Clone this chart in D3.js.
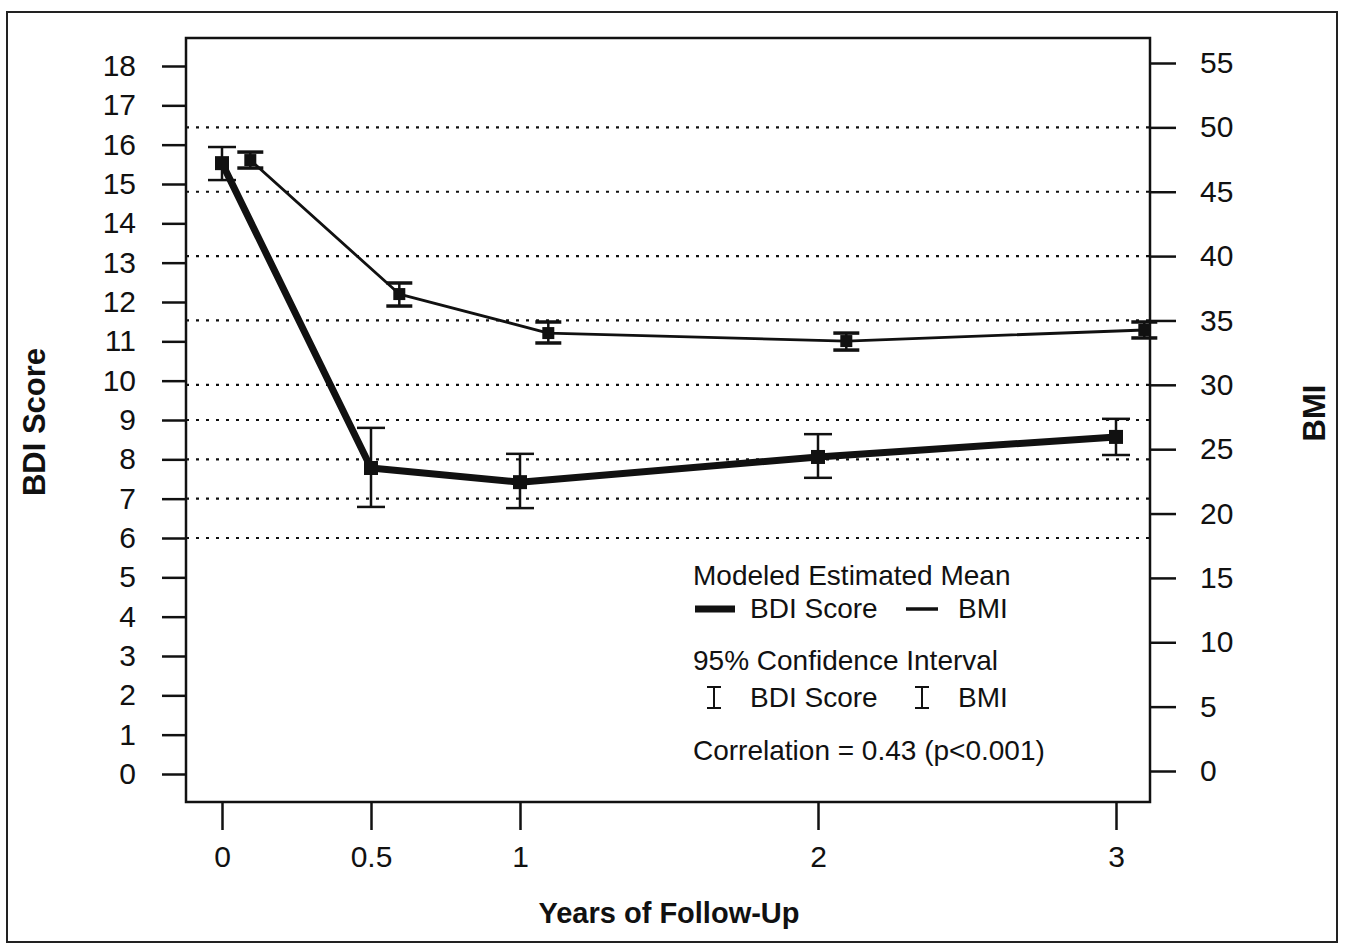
<!DOCTYPE html>
<html>
<head>
<meta charset="utf-8">
<script src="https://cdn.jsdelivr.net/npm/d3@7"></script>
<style>
  body { margin: 0; background: #fff; }
  text { font-family: "Liberation Sans", Arial, sans-serif; fill: #111; }
</style>
</head>
<body>
<div class="container"></div>
<script>
// data
const years = [0, 0.5, 1, 2, 3];
const bdiMean = [15.53, 7.78, 7.42, 8.06, 8.57];
const bdiLow  = [15.10, 6.79, 6.76, 7.53, 8.11];
const bdiHigh = [15.94, 8.80, 8.14, 8.64, 9.03];

const bmiYears = [0.095, 0.595, 1.095, 2.095, 3.095];
const bmiMean = [47.46, 37.05, 34.02, 33.40, 34.26];
const bmiLow  = [46.84, 36.12, 33.25, 32.70, 33.64];
const bmiHigh = [48.08, 37.91, 34.88, 34.02, 34.88];

const xTicks = [0, 0.5, 1, 2, 3];
const bdiTicks = d3.range(0, 19);
const bmiTicks = [0, 5, 10, 15, 20, 25, 30, 35, 40, 45, 50, 55];
const bdiGrid = [6, 7, 8, 9];
const bmiGrid = [30, 35, 40, 45, 50];

const W = 1349, H = 945;
const box = {left: 186, top: 38, right: 1150, bottom: 802};

const svg = d3.select('.container').append('svg')
  .attr('width', W).attr('height', H);

// outer frame
svg.append('rect')
  .attr('x', 7).attr('y', 12).attr('width', 1330).attr('height', 930)
  .attr('fill', 'none').attr('stroke', '#222').attr('stroke-width', 2);

const x = d3.scaleLinear().domain([0, 3]).range([222, 1116]);
const yL = d3.scaleLinear().domain([0, 18]).range([774, 66]);
const yR = d3.scaleLinear().domain([0, 55]).range([771, 63]);

// dotted grid lines
const grid = svg.append('g').attr('stroke', '#111').attr('stroke-width', 2.2)
  .attr('stroke-dasharray', '3,7');
grid.selectAll('.gl').data(bdiGrid).enter().append('line')
  .attr('x1', box.left).attr('x2', box.right)
  .attr('y1', d => yL(d)).attr('y2', d => yL(d));
grid.selectAll('.gr').data(bmiGrid).enter().append('line')
  .attr('x1', box.left).attr('x2', box.right)
  .attr('y1', d => yR(d)).attr('y2', d => yR(d));

// plot box
svg.append('rect')
  .attr('x', box.left).attr('y', box.top)
  .attr('width', box.right - box.left).attr('height', box.bottom - box.top)
  .attr('fill', 'none').attr('stroke', '#111').attr('stroke-width', 2.5);

// axes
let styleAxis = (g) => {
  g.select('.domain').remove();
  g.selectAll('.tick line').attr('stroke', '#111').attr('stroke-width', 2.5);
  g.selectAll('.tick text').attr('font-size', 30).attr('fill', '#111')
    .attr('font-family', '"Liberation Sans", Arial, sans-serif');
};

svg.append('g').attr('transform', `translate(${box.left},0)`)
  .call(d3.axisLeft(yL).tickValues(bdiTicks).tickSize(24).tickPadding(26).tickFormat(d3.format('d')))
  .call(styleAxis);

svg.append('g').attr('transform', `translate(${box.right},0)`)
  .call(d3.axisRight(yR).tickValues(bmiTicks).tickSize(26).tickPadding(24).tickFormat(d3.format('d')))
  .call(styleAxis);

svg.append('g').attr('transform', `translate(0,${box.bottom})`)
  .call(d3.axisBottom(x).tickValues(xTicks).tickSize(28).tickPadding(16).tickFormat(d => d))
  .call(styleAxis);

// axis titles
svg.append('text')
  .attr('transform', 'translate(45,422) rotate(-90)')
  .attr('text-anchor', 'middle').attr('font-size', 31).attr('font-weight', 'bold')
  .text('BDI Score');
svg.append('text')
  .attr('transform', 'translate(1325,413) rotate(-90)')
  .attr('text-anchor', 'middle').attr('font-size', 31).attr('font-weight', 'bold')
  .text('BMI');
svg.append('text')
  .attr('x', 669).attr('y', 923)
  .attr('text-anchor', 'middle').attr('font-size', 29).attr('font-weight', 'bold')
  .text('Years of Follow-Up');

// series
let bdi = years.map((t, i) => ({t, m: bdiMean[i], lo: bdiLow[i], hi: bdiHigh[i]}));
let bmi = bmiYears.map((t, i) => ({t, m: bmiMean[i], lo: bmiLow[i], hi: bmiHigh[i]}));

let drawSeries = (data, y, lw, cap, sq, capW) => {
  const g = svg.append('g');
  g.append('path').datum(data)
    .attr('fill', 'none').attr('stroke', '#111').attr('stroke-width', lw)
    .attr('stroke-linejoin', 'round')
    .attr('d', d3.line().x(d => x(d.t)).y(d => y(d.m)));
  const eb = g.selectAll('.eb').data(data).enter().append('g');
  eb.append('line')
    .attr('x1', d => x(d.t)).attr('x2', d => x(d.t))
    .attr('y1', d => y(d.lo)).attr('y2', d => y(d.hi))
    .attr('stroke', '#111').attr('stroke-width', 2.5);
  ['lo', 'hi'].forEach(k => {
    eb.append('line')
      .attr('x1', d => x(d.t) - cap / 2).attr('x2', d => x(d.t) + cap / 2)
      .attr('y1', d => y(d[k])).attr('y2', d => y(d[k]))
      .attr('stroke', '#111').attr('stroke-width', capW);
  });
  eb.append('rect')
    .attr('x', d => x(d.t) - sq / 2).attr('y', d => y(d.m) - sq / 2)
    .attr('width', sq).attr('height', sq).attr('fill', '#111');
};

drawSeries(bmi, yR, 2.8, 26, 12, 3.5);
drawSeries(bdi, yL, 7, 28, 14, 2.5);

// legend
const lg = svg.append('g');
lg.append('text').attr('x', 693).attr('y', 585).attr('font-size', 28).text('Modeled Estimated Mean');
lg.append('line').attr('x1', 695).attr('x2', 735).attr('y1', 609).attr('y2', 609)
  .attr('stroke', '#111').attr('stroke-width', 7);
lg.append('text').attr('x', 750).attr('y', 618).attr('font-size', 28).text('BDI Score');
lg.append('line').attr('x1', 906).attr('x2', 938).attr('y1', 609).attr('y2', 609)
  .attr('stroke', '#111').attr('stroke-width', 3.5);
lg.append('text').attr('x', 958).attr('y', 618).attr('font-size', 28).text('BMI');

lg.append('text').attr('x', 693).attr('y', 670).attr('font-size', 28).text('95% Confidence Interval');
[714, 922].forEach(cx => {
  lg.append('path')
    .attr('d', `M${cx - 7},687H${cx + 7}M${cx},687V708M${cx - 7},708H${cx + 7}`)
    .attr('stroke', '#111').attr('stroke-width', 2).attr('fill', 'none');
});
lg.append('text').attr('x', 750).attr('y', 707).attr('font-size', 28).text('BDI Score');
lg.append('text').attr('x', 958).attr('y', 707).attr('font-size', 28).text('BMI');

lg.append('text').attr('x', 693).attr('y', 760).attr('font-size', 28).text('Correlation = 0.43 (p<0.001)');
</script>
</body>
</html>
